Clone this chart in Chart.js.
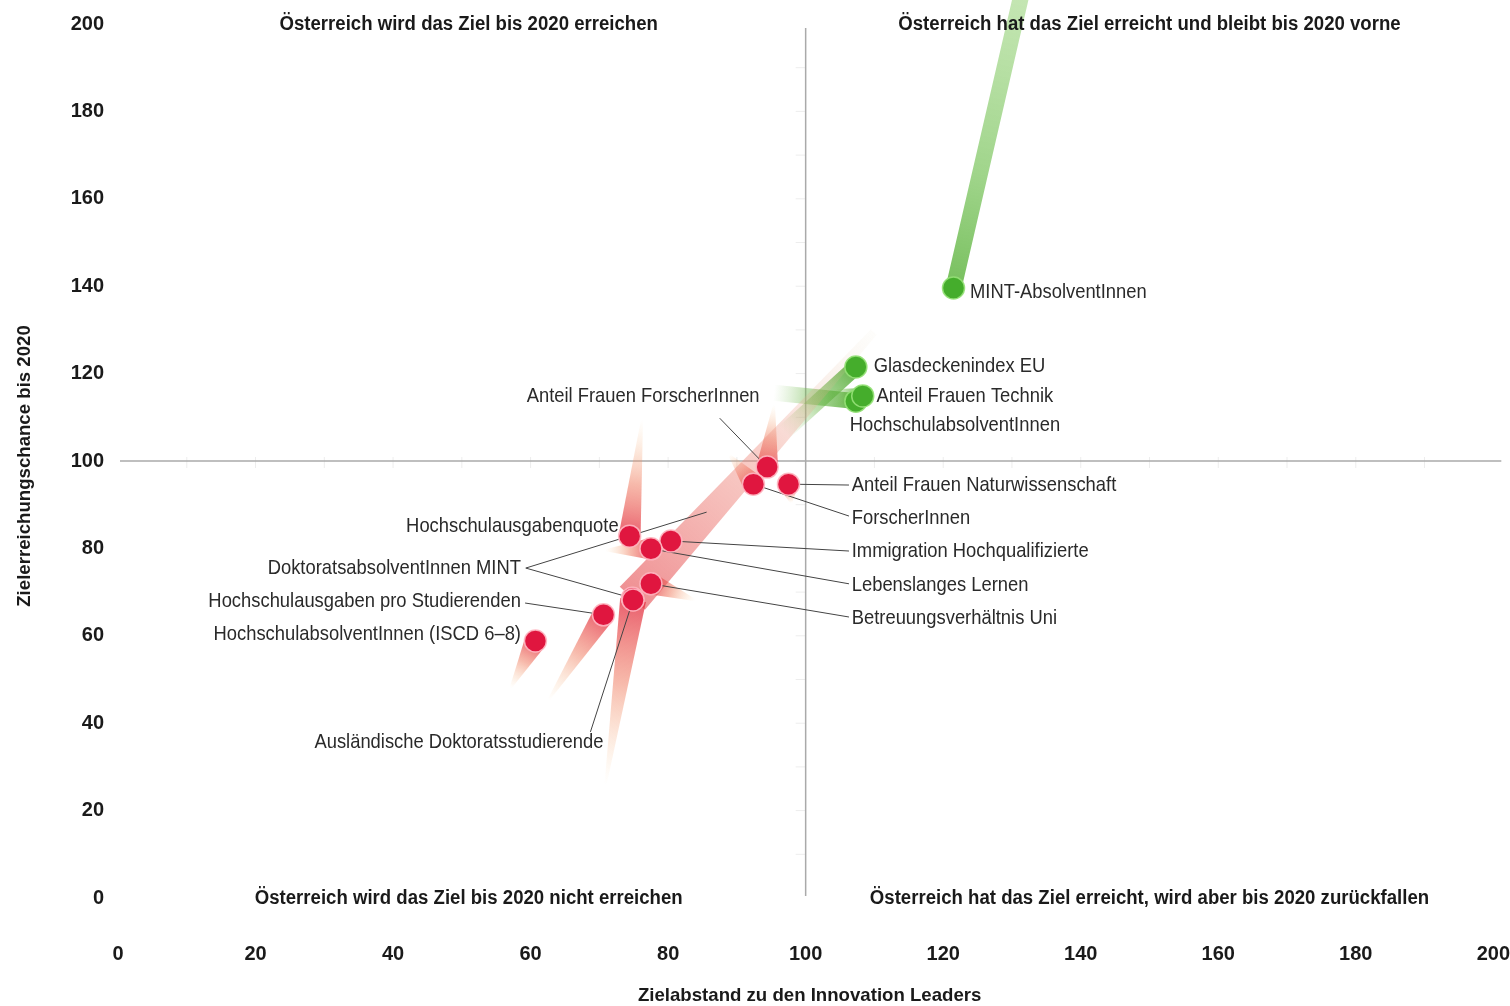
<!DOCTYPE html>
<html lang="de">
<head>
<meta charset="utf-8">
<title>Zielabstand und Zielerreichungschance</title>
<script src="https://cdn.jsdelivr.net/npm/chart.js@4.4.0/dist/chart.umd.min.js"></script>
<style>
  html, body { margin: 0; padding: 0; background: #fff; }
  #wrap { width: 1510px; height: 1006px; }
</style>
</head>
<body>
<div id="wrap"><canvas id="chart1" width="1510" height="1006"></canvas></div>
<script>
// Indikatoren: aktuelle Position und Ende des Trend-Schweifs
const names = [
  'MINT-AbsolventInnen',
  'Glasdeckenindex EU',
  'HochschulabsolventInnen',
  'Anteil Frauen Technik',
  'Anteil Frauen ForscherInnen',
  'ForscherInnen',
  'Anteil Frauen Naturwissenschaft',
  'Hochschulausgabenquote',
  'Immigration Hochqualifizierte',
  'Lebenslanges Lernen',
  'Betreuungsverhältnis Uni',
  'DoktoratsabsolventInnen MINT',
  'Ausländische Doktoratsstudierende',
  'Hochschulausgaben pro Studierenden',
  'HochschulabsolventInnen (ISCD 6–8)'
];
const xNow  = [121.5, 107.3, 107.3, 108.3, 94.4, 92.4, 97.5, 74.4, 80.4, 77.5, 77.5, 74.8, 74.9, 70.6, 60.7];
const yNow  = [139.6, 121.5, 113.7, 114.9, 98.6, 94.7, 94.7, 82.8, 81.7, 79.9, 71.9, 68.6, 68.2, 64.8, 58.8];
const xTail = [132.6, 96.9, 95.4, 104.0, 95.4, 88.9, 97.9, 76.2, 80.4, 70.9, 83.9, 109.9, 70.9, 62.6, 57.1];
const yTail = [215.0, 106.6, 115.6, 114.6, 112.8, 101.4, 90.4, 109.4, 81.7, 79.6, 68.2, 129.5, 25.9, 45.3, 48.1];
// true = Ziel erreicht / vorne (grün), false = rot
const ahead = [true, true, true, true, false, false, false, false, false, false, false, false, false, false, false];

const tickValues = [0, 20, 40, 60, 80, 100, 120, 140, 160, 180, 200];
const xTitle = 'Zielabstand zu den Innovation Leaders';
const yTitle = 'Zielerreichungschance bis 2020';
const quadrantTitles = [
  'Österreich wird das Ziel bis 2020 erreichen',
  'Österreich hat das Ziel erreicht und bleibt bis 2020 vorne',
  'Österreich wird das Ziel bis 2020 nicht erreichen',
  'Österreich hat das Ziel erreicht, wird aber bis 2020 zurückfallen'
];

// Layout der Beschriftungen (in Achsenwerten): [x, y, Ausrichtung, Leader-Start x, y, zweites Ziel]
const labelLayout = [
  [123.9, 138.7, 'left'],
  [109.9, 121.7, 'left'],
  [106.4, 108.2, 'left'],
  [110.3, 114.9, 'left'],
  [93.3, 114.9, 'right', 87.5, 109.8],
  [106.7, 87.0, 'left', 106.3, 87.4],
  [106.7, 94.5, 'left', 106.3, 94.5],
  [72.8, 85.1, 'right'],
  [106.7, 79.4, 'left', 106.3, 79.4],
  [106.7, 71.6, 'left', 106.3, 71.9],
  [106.7, 64.1, 'left', 106.3, 64.3],
  [58.6, 75.5, 'right', 59.3, 75.5, [85.6, 88.3]],
  [70.6, 35.7, 'right', 68.7, 38.0],
  [58.6, 68.0, 'right', 59.2, 67.5],
  [58.6, 60.4, 'right']
];
const quadrantPos = [[51, 200], [150, 200], [51, 0], [150, 0]];
const tailWidth = { 'DoktoratsabsolventInnen MINT': 34, 'Ausländische Doktoratsstudierende': 26 };

const SANS = "'Liberation Sans', Arial, Helvetica, sans-serif";
const RED = '#e0163f';
const GREEN = '#45ad2c';

// schmale Schrift nachbilden: horizontal gestauchter Text
function squeezedText(ctx, text, x, y, align, font, sx, rot) {
  ctx.save();
  ctx.translate(x, y);
  if (rot) ctx.rotate(rot);
  ctx.scale(sx, 1);
  ctx.font = font;
  ctx.textAlign = align;
  ctx.textBaseline = 'middle';
  ctx.fillText(text, 0, 0);
  ctx.restore();
}

function wedge(ctx, x0, y0, x1, y1, w0, w1, stops) {
  const dx = x1 - x0, dy = y1 - y0, len = Math.hypot(dx, dy);
  if (len < 3) return;
  const nx = -dy / len, ny = dx / len;
  const g = ctx.createLinearGradient(x0, y0, x1, y1);
  stops.forEach(s => g.addColorStop(s[0], s[1]));
  ctx.beginPath();
  ctx.moveTo(x0 + nx * w0 / 2, y0 + ny * w0 / 2);
  ctx.lineTo(x1 + nx * w1 / 2, y1 + ny * w1 / 2);
  ctx.lineTo(x1 - nx * w1 / 2, y1 - ny * w1 / 2);
  ctx.lineTo(x0 - nx * w0 / 2, y0 - ny * w0 / 2);
  ctx.closePath();
  ctx.fillStyle = g;
  ctx.fill();
}

function greenTail(ctx, x0, y0, x1, y1, longTail) {
  const g = ctx.createLinearGradient(x0, y0, x1, y1);
  if (longTail) {
    g.addColorStop(0, 'rgba(95,180,65,0.85)');
    g.addColorStop(0.35, 'rgba(120,195,90,0.7)');
    g.addColorStop(1, 'rgba(160,215,130,0.55)');
  } else {
    g.addColorStop(0, 'rgba(70,165,40,0.85)');
    g.addColorStop(0.6, 'rgba(110,185,75,0.45)');
    g.addColorStop(1, 'rgba(150,205,120,0)');
  }
  ctx.save();
  ctx.strokeStyle = g;
  ctx.lineWidth = 16;
  ctx.lineCap = longTail ? 'round' : 'butt';
  ctx.beginPath();
  ctx.moveTo(x0, y0);
  ctx.lineTo(x1, y1);
  ctx.stroke();
  ctx.restore();
}

const overlay = {
  id: 'overlay',
  beforeDatasetsDraw(chart) {
    const { ctx, chartArea: a, scales: { x, y } } = chart;
    const cx = x.getPixelForValue(100), cy = y.getPixelForValue(100);
    ctx.save();
    // kleine Hilfsstriche an den Mittellinien
    ctx.strokeStyle = '#ededed';
    ctx.lineWidth = 1;
    for (let v = 10; v < 200; v += 10) {
      const py = y.getPixelForValue(v);
      ctx.beginPath(); ctx.moveTo(cx - 10, py); ctx.lineTo(cx, py); ctx.stroke();
      const px = x.getPixelForValue(v);
      ctx.beginPath(); ctx.moveTo(px, cy - 4); ctx.lineTo(px, cy + 7); ctx.stroke();
    }
    // Quadrantenlinien
    ctx.strokeStyle = '#aaaaaa';
    ctx.lineWidth = 1.5;
    ctx.beginPath(); ctx.moveTo(cx, a.top + 4); ctx.lineTo(cx, a.bottom - 2); ctx.stroke();
    ctx.beginPath(); ctx.moveTo(a.left + 2, cy); ctx.lineTo(a.right + 8, cy); ctx.stroke();

    // Schweife
    names.forEach((n, i) => {
      const x0 = x.getPixelForValue(xNow[i]), y0 = y.getPixelForValue(yNow[i]);
      const x1 = x.getPixelForValue(xTail[i]), y1 = y.getPixelForValue(yTail[i]);
      if (ahead[i]) {
        greenTail(ctx, x0, y0, x1, y1, i === 0);
      } else if (n === 'DoktoratsabsolventInnen MINT') {
        wedge(ctx, x0, y0, x1, y1, tailWidth[n], 8, [
          [0, 'rgba(228,70,75,0.6)'], [0.55, 'rgba(238,130,115,0.38)'], [1, 'rgba(225,215,180,0.05)']
        ]);
      } else {
        wedge(ctx, x0, y0, x1, y1, tailWidth[n] || 22, 2, [
          [0, 'rgba(226,40,60,0.75)'], [0.45, 'rgba(238,110,80,0.48)'], [1, 'rgba(250,200,130,0)']
        ]);
      }
    });

    // Verbindungslinien zu den Beschriftungen
    ctx.strokeStyle = '#444';
    ctx.lineWidth = 1;
    labelLayout.forEach((l, i) => {
      if (l[3] === undefined) return;
      const sx = x.getPixelForValue(l[3]), sy = y.getPixelForValue(l[4]);
      ctx.beginPath();
      ctx.moveTo(sx, sy);
      ctx.lineTo(x.getPixelForValue(xNow[i]), y.getPixelForValue(yNow[i]));
      ctx.stroke();
      if (l[5]) {
        ctx.beginPath();
        ctx.moveTo(sx, sy);
        ctx.lineTo(x.getPixelForValue(l[5][0]), y.getPixelForValue(l[5][1]));
        ctx.stroke();
      }
    });
    ctx.restore();
  },
  afterDatasetsDraw(chart) {
    const { ctx, chartArea: a, scales: { x, y } } = chart;
    ctx.save();
    ctx.fillStyle = '#2a2a2a';
    labelLayout.forEach((l, i) => {
      squeezedText(ctx, names[i], x.getPixelForValue(l[0]), y.getPixelForValue(l[1]), l[2], '21px ' + SANS, 0.875);
    });
    ctx.fillStyle = '#1a1a1a';
    quadrantTitles.forEach((t, i) => {
      squeezedText(ctx, t, x.getPixelForValue(quadrantPos[i][0]), y.getPixelForValue(quadrantPos[i][1]), 'center', 'bold 20px ' + SANS, 0.93);
    });
    // Achsentitel
    squeezedText(ctx, xTitle, (a.left + a.right) / 2 + 4, 996, 'center', 'bold 19px ' + SANS, 0.98);
    squeezedText(ctx, yTitle, 25, (a.top + a.bottom) / 2 + 5, 'center', 'bold 19px ' + SANS, 0.98, -Math.PI / 2);
    ctx.restore();
  }
};

const redPts = [], greenPts = [];
names.forEach((n, i) => (ahead[i] ? greenPts : redPts).push({ x: xNow[i], y: yNow[i] }));

const tickFont = { family: SANS, size: 20, weight: 'bold' };
// unsichtbare Tickstriche als Abstand zwischen Achse und Beschriftung
const hiddenGrid = len => ({ display: true, drawOnChartArea: false, drawTicks: true, tickLength: len, color: 'rgba(0,0,0,0)' });

new Chart(document.getElementById('chart1').getContext('2d'), {
  type: 'scatter',
  data: {
    datasets: [
      { label: 'zurück', data: redPts, backgroundColor: RED, borderColor: 'rgba(255,185,195,0.9)', borderWidth: 1.5, pointRadius: 11 },
      { label: 'vorne', data: greenPts, backgroundColor: GREEN, borderColor: 'rgba(150,225,120,0.9)', borderWidth: 1.5, pointRadius: 11 }
    ]
  },
  options: {
    responsive: false,
    animation: false,
    layout: { padding: { top: 24, right: 16, left: 0, bottom: 0 } },
    plugins: { legend: { display: false }, tooltip: { enabled: false } },
    scales: {
      x: {
        type: 'linear', min: 0, max: 200,
        afterBuildTicks: s => { s.ticks = tickValues.map(v => ({ value: v })); },
        afterFit: s => { s.height = 108; },
        grid: hiddenGrid(44),
        border: { display: false },
        ticks: { padding: 0, color: '#1a1a1a', font: tickFont, maxRotation: 0 }
      },
      y: {
        type: 'linear', min: 0, max: 200,
        afterBuildTicks: s => { s.ticks = tickValues.map(v => ({ value: v })); },
        afterFit: s => { s.width = 118; },
        grid: hiddenGrid(14),
        border: { display: false },
        ticks: { padding: 0, color: '#1a1a1a', font: tickFont }
      }
    }
  },
  plugins: [overlay]
});
</script>
</body>
</html>
